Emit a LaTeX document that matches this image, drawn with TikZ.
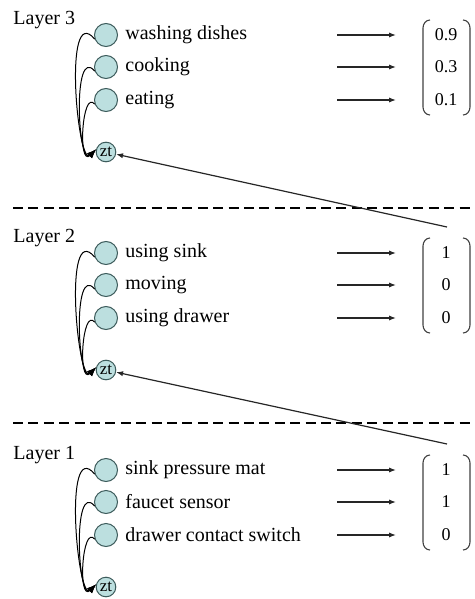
\documentclass[tikz,border=0pt]{standalone}
\usepackage{fontspec}
\setmainfont{Liberation Serif}
\usetikzlibrary{arrows.meta,positioning}
\definecolor{cell}{HTML}{BCDFDF}
\definecolor{rim}{HTML}{3D5C5C}
\tikzset{cellnode/.style={circle,draw=rim,fill=cell,line width=.5pt,minimum size=11.5pt,inner sep=0pt},
 ztnode/.style={cellnode,minimum size=9.8pt,font=\fontsize{8.5}{8.5}\selectfont},
 lbl/.style={inner sep=0pt,anchor=west,font=\fontsize{10}{12}\selectfont},
 val/.style={inner sep=0pt,font=\fontsize{9}{10}\selectfont},
 link/.style={line width=.5pt,-{Latex[length=4.5pt,width=3.4pt]}},
 feed/.style={line width=.6pt,black!85,-{Latex[length=3.5pt,width=2.6pt]}},
 bracket/.style={line width=.55pt,black!75},
 layerline/.style={line width=1pt,dash pattern=on 5pt off 2.7pt}}
\begin{document}
\begin{tikzpicture}[x=.5pt,y=-.5pt]
\useasboundingbox (0,0) rectangle (475,599);
\foreach \n/\a/\b/\c/\p/\q/\r/\dy in {3/washing dishes/cooking/eating/0.9/0.3/0.1/0,
 2/using sink/moving/using drawer/1/0/0/218,
 1/sink pressure mat/faucet sensor/drawer contact switch/1/1/0/435}{
 \begin{scope}[shift={(0,\dy)}]
 \node[lbl] (layer\n) at (13,20) {Layer \n};
 \node[ztnode] (zt\n) at (106,152) {zt};
 \foreach \t/\v [count=\k] in {\a/\p,\b/\q,\c/\r}{
  \pgfmathtruncatemacro{\yy}{35+32.5*(\k-1)}
  \pgfmathtruncatemacro{\reach}{65-15*\k}
  \node[cellnode] (c\n\k) at (106,\yy) {};
  \node[lbl] (t\n\k) at (125,\yy) {\t};
  \coordinate (a\n\k) at (337,\yy);
  \coordinate (b\n\k) at (396,\yy);
  \draw[feed] (a\n\k) -- (b\n\k);
  \node[val] (v\n\k) at (446,\yy) {\v};
  \draw[link] (c\n\k.200) .. controls +(230:\reach) and +(135:26) .. (zt\n.165);
 }
 % round brackets of the vector
 \draw[bracket] (430,20) to[out=180,in=90] (423,28) -- (423,107) to[out=270,in=180] (430,115);
 \draw[bracket] (463,20) to[out=0,in=90] (470,28) -- (470,107) to[out=270,in=0] (463,115);
 \coordinate (top\n) at (447,9);
 \end{scope}
}
\draw[layerline] (13,208) -- (475,208);
\draw[layerline] (13,423) -- (475,423);
\draw[feed] (top2) -- (zt3);
\draw[feed] (top1) -- (zt2);
\end{tikzpicture}
\end{document}
